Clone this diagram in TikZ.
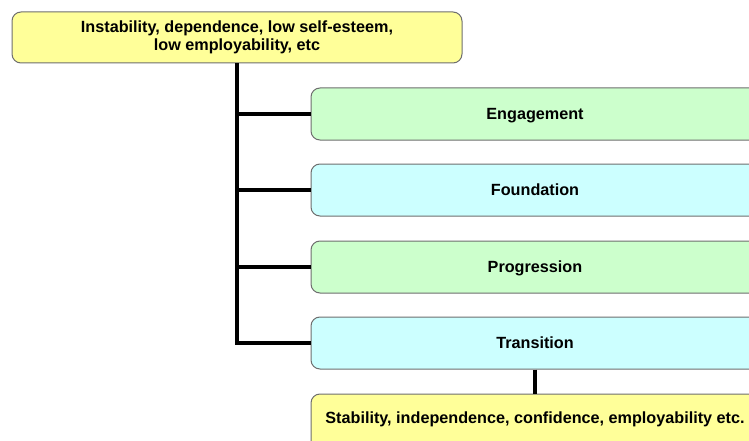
\documentclass[tikz,border=0pt]{standalone}
\usepackage{fontspec}
\setmainfont{Liberation Sans}
\definecolor{boxyellow}{HTML}{FFFF99}
\definecolor{boxgreen}{HTML}{CCFFCC}
\definecolor{boxcyan}{HTML}{CCFFFF}
\definecolor{boxedge}{HTML}{6E6E6E}
\begin{document}
\begin{tikzpicture}[x=1pt,y=-1pt,
  label/.style={font=\fontsize{16.2}{18.5}\selectfont\bfseries, align=center},
  base/.style={draw=boxedge, line width=1pt, rounded corners=9pt, label, inner sep=0pt},
  outcome/.style={base, fill=boxyellow},
  stage/.style={base, minimum width=448pt, minimum height=52pt, text depth=0pt},
  stagegreen/.style={stage, fill=boxgreen},
  stagecyan/.style={stage, fill=boxcyan},
  link/.style={line width=4pt, line join=miter}]
\useasboundingbox (0,0) rectangle (749,441);
\clip (0,0) rectangle (749,441);

\node[outcome, minimum width=450pt, minimum height=51pt] (start) at (237,37.5)
  {Instability, dependence, low self-esteem,\\low employability, etc};

\node[stagegreen] (eng)   at (535,114) {Engagement};
\node[stagecyan]  (found) at (535,190) {Foundation};
\node[stagegreen] (prog)  at (535,267) {Progression};
\node[stagecyan]  (trans) at (535,343) {Transition};

\node[outcome, minimum width=448pt, minimum height=56pt] (end) at (535,422) {};
\node[label, text depth=0pt, inner sep=0pt] (endtext) at (535,418)
  {Stability, independence, confidence, employability etc.};

\draw[link] (start.south) -- (start.south |- trans.west) -- (trans.west);
\draw[link] (start.south |- eng.west) -- (eng.west);
\draw[link] (start.south |- found.west) -- (found.west);
\draw[link] (start.south |- prog.west) -- (prog.west);
\draw[link] (trans.south) -- (end.north);
\end{tikzpicture}
\end{document}
